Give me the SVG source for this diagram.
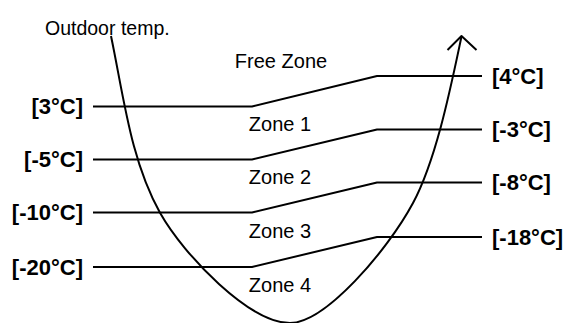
<svg xmlns="http://www.w3.org/2000/svg" width="566" height="323" viewBox="0 0 566 323">
<style>
.ln{fill:none;stroke:#000;stroke-width:2;stroke-linejoin:round}
.t{font-family:"Liberation Sans",Arial,sans-serif;font-size:20px;fill:#000}
.o{font-size:19.5px}
.b{font-family:"Liberation Sans",Arial,sans-serif;font-size:22px;font-weight:bold;fill:#000}
</style>
<rect width="566" height="323" fill="#fff"/>
<g id="axis-curve">
<path class="ln" d="M111,36 C123.6,96 130.6,160.5 160,212.7 C184.5,256.2 250,323 290,323 C325,323 387,251.4 413,203 C436.5,159 451,86 461.5,36.5"/>
<polyline class="ln" points="447.5,50 461.5,36 476.5,50"/>
<text class="t o" x="45" y="35">Outdoor temp.</text>
</g>
<g id="connectors">
<path class="ln" d="M93,106.5 H252 L377,76 H482"/>
<path class="ln" d="M93,159.5 H252 L377,129.5 H482"/>
<path class="ln" d="M93,212.5 H252 L377,182.5 H482"/>
<path class="ln" d="M93,267 H252 L377,237 H482"/>
</g>
<g id="left-labels">
<text class="b" x="83" y="114" text-anchor="end">[3°C]</text>
<text class="b" x="83" y="167" text-anchor="end">[-5°C]</text>
<text class="b" x="83" y="220" text-anchor="end">[-10°C]</text>
<text class="b" x="83" y="274.5" text-anchor="end">[-20°C]</text>
</g>
<g id="right-labels">
<text class="b" x="492" y="83.5">[4°C]</text>
<text class="b" x="492" y="137">[-3°C]</text>
<text class="b" x="492" y="190">[-8°C]</text>
<text class="b" x="492" y="244.5">[-18°C]</text>
</g>
<g id="zones">
<text class="t" x="281" y="68" text-anchor="middle">Free Zone</text>
<text class="t" x="280" y="130.5" text-anchor="middle">Zone 1</text>
<text class="t" x="280" y="183.5" text-anchor="middle">Zone 2</text>
<text class="t" x="280" y="237.5" text-anchor="middle">Zone 3</text>
<text class="t" x="280" y="291.5" text-anchor="middle">Zone 4</text>
</g>
</svg>
